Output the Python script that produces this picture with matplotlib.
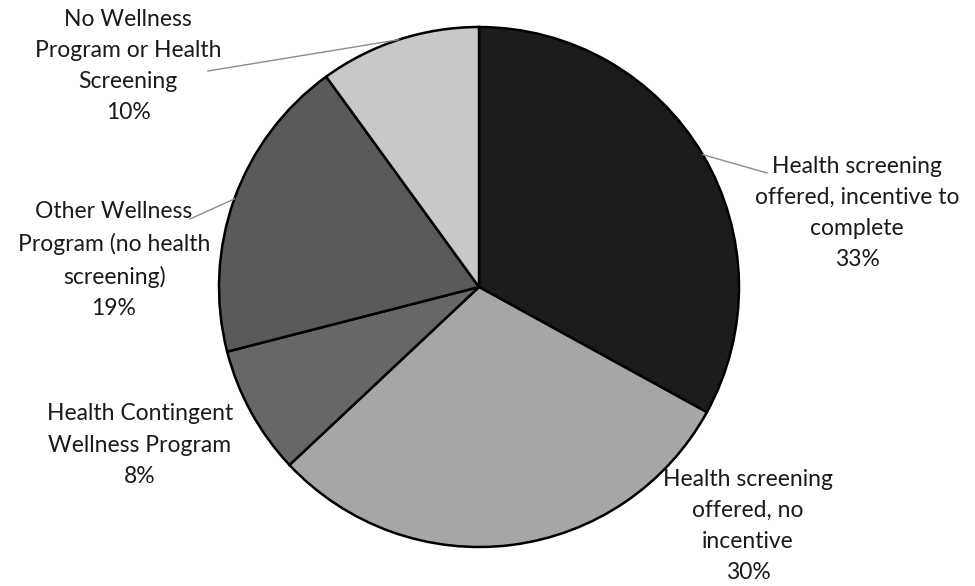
import matplotlib
matplotlib.use("Agg")
import matplotlib.pyplot as plt
import numpy as np

labels = ["Health screening\noffered, incentive to\ncomplete",
          "Health screening\noffered, no\nincentive",
          "Health Contingent\nWellness Program",
          "Other Wellness\nProgram (no health\nscreening)",
          "No Wellness\nProgram or Health\nScreening"]
values = [33, 30, 8, 19, 10]
colors = ["#1c1c1c", "#a6a6a6", "#676767", "#5a5a5a", "#c8c8c8"]

W, H = 975, 586
fig = plt.figure(figsize=(W / 100, H / 100), dpi=100)
cx, cy, R = 479, 287, 260
ax = fig.add_axes([(cx - R) / W, (H - cy - R) / H, 2 * R / W, 2 * R / H])
wedges, _ = ax.pie(values, colors=colors, startangle=90, counterclock=False,
                   wedgeprops=dict(edgecolor="black", linewidth=1.8))
ax.set_xlim(-1, 1)
ax.set_ylim(-1, 1)
ax.set_aspect("equal")
ax.axis("off")

# label positions in pixels (center of text block), leader end point
label_pos = [(857, 213), (748, 526), (140, 445), (114, 260), (128, 66)]
leader_end = [(767, 173), None, None, (190, 219), (208, 71)]

font = dict(family=["Lato", "DejaVu Sans"], fontsize=16.5, color="#1a1a1a")
for w, lab, v, (px, py), le in zip(wedges, labels, values, label_pos, leader_end):
    fig.text(px / W, 1 - py / H, f"{lab}\n{v}%", ha="center", va="center",
             multialignment="center", linespacing=1.6, **font)
    if le is not None:
        ang = np.deg2rad((w.theta1 + w.theta2) / 2)
        x0, y0 = np.cos(ang), np.sin(ang)
        x1, y1 = (le[0] - cx) / R, (cy - le[1]) / R
        ax.plot([x0, x1], [y0, y1], color="#8c8c8c", lw=1.0, clip_on=False)

fig.savefig("out.png", dpi=100, facecolor="white")
